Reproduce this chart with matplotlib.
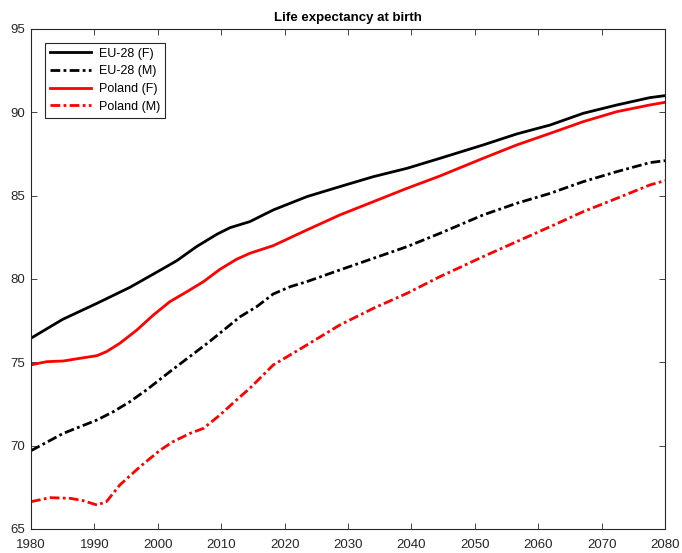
import matplotlib
matplotlib.use("Agg")
import matplotlib.pyplot as plt

# values
eu_f_years = [1980, 1985, 1990.4, 1995.6, 2000.9, 2003, 2006.1, 2009.3, 2011.4, 2014.5,
              2018.2, 2023.5, 2028.7, 2034, 2039.3, 2044.5, 2051.3, 2056.6, 2061.9,
              2067.1, 2072.4, 2077.6, 2080]
eu_f = [76.45, 77.58, 78.54, 79.5, 80.64, 81.1, 81.94, 82.68, 83.08, 83.44,
        84.14, 84.94, 85.54, 86.14, 86.64, 87.24, 88.04, 88.7, 89.24,
        89.94, 90.44, 90.88, 91.0]

eu_m_years = [1980, 1985.1, 1990.4, 1993, 1995.6, 1998.2, 2001.9, 2008, 2013, 2015.6,
              2018.2, 2020.9, 2023.5, 2028.7, 2034, 2039.3, 2044.5, 2051.3, 2056.6,
              2061.9, 2067.1, 2072.4, 2077.6, 2080]
eu_m = [69.7, 70.74, 71.54, 72.04, 72.64, 73.34, 74.44, 76.2, 77.74, 78.34,
        79.1, 79.54, 79.84, 80.54, 81.24, 81.94, 82.74, 83.84, 84.54,
        85.14, 85.84, 86.44, 86.98, 87.1]

pl_f_years = [1980, 1982.5, 1985.1, 1987.7, 1990.4, 1991.9, 1994, 1996.7, 1999.3,
              2001.9, 2004.6, 2007.2, 2009.8, 2012.4, 2014.5, 2018.2, 2023.5, 2028.7,
              2034, 2039.3, 2044.5, 2051.3, 2056.6, 2061.9, 2067.1, 2072.4, 2077.6, 2080]
pl_f = [74.85, 75.04, 75.08, 75.24, 75.4, 75.64, 76.14, 76.94, 77.84,
        78.64, 79.24, 79.84, 80.58, 81.18, 81.54, 82.0, 82.94, 83.84,
        84.64, 85.44, 86.18, 87.24, 88.04, 88.74, 89.44, 90.04, 90.44, 90.6]

pl_m_years = [1980, 1983, 1986.2, 1988.2, 1990.4, 1991.9, 1994, 1997.2, 2000.4, 2002.4,
              2005.1, 2007.2, 2009.8, 2012.4, 2014.5, 2018.2, 2023.5, 2028.7, 2034,
              2039.3, 2044.5, 2051.3, 2056.6, 2061.9, 2067.1, 2072.4, 2077.6, 2080]
pl_m = [66.64, 66.88, 66.84, 66.7, 66.44, 66.64, 67.64, 68.74, 69.74, 70.24,
        70.74, 71.04, 71.84, 72.74, 73.44, 74.84, 76.04, 77.24, 78.24,
        79.14, 80.14, 81.34, 82.24, 83.14, 84.04, 84.84, 85.64, 85.9]

labels = ["EU-28 (F)", "EU-28 (M)", "Poland (F)", "Poland (M)"]

plt.rcParams['font.family'] = ['Liberation Sans', 'DejaVu Sans']

fig = plt.figure(figsize=(6.82, 5.53), dpi=100)
ax = fig.add_axes([0.0455, 0.0434, 0.9296, 0.9042])

dashdot = (0, (3.5, 1.2, 1, 1.2))
ax.plot(eu_f_years, eu_f, color='black', lw=2, label=labels[0])
ax.plot(eu_m_years, eu_m, color='black', lw=2, ls=dashdot, label=labels[1])
ax.plot(pl_f_years, pl_f, color='red', lw=2, label=labels[2])
ax.plot(pl_m_years, pl_m, color='red', lw=2, ls=dashdot, label=labels[3])

ax.set_xlim(1980, 2080)
ax.set_ylim(65, 95)
ax.set_xticks(range(1980, 2081, 10))
ax.set_yticks(range(65, 96, 5))
ax.tick_params(direction='in', length=4.5, width=0.6, top=True, right=True,
               labelsize=9.5, colors='#262626')
ax.tick_params(axis='x', pad=7)
ax.tick_params(axis='y', pad=4)
for s in ax.spines.values():
    s.set_linewidth(0.8)
    s.set_color('#262626')

ax.set_title("Life expectancy at birth", fontsize=9.5, fontweight='bold', pad=6)

leg = ax.legend(loc='upper left', fontsize=9, handlelength=3.3, fancybox=False,
                edgecolor='#262626', framealpha=1, borderaxespad=1.1,
                labelspacing=0.45, handletextpad=0.6)
leg.get_frame().set_linewidth(0.8)

fig.savefig("out.png", dpi=100)
